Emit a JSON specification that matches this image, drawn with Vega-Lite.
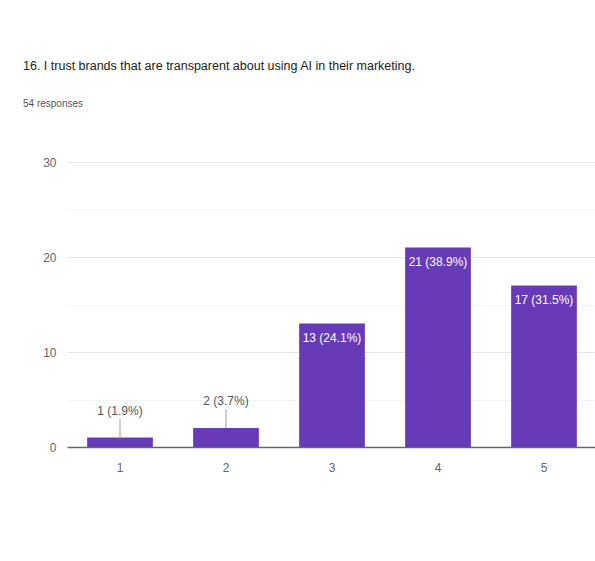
{
  "$schema": "https://vega.github.io/schema/vega-lite/v6.json",
  "width": 530,
  "height": 285,
  "autosize": {"type": "none"},
  "padding": {"left": 67, "top": 162, "right": 0, "bottom": 114},
  "background": "white",
  "config": {
    "view": {"stroke": null},
    "font": "'Liberation Sans', Arial, sans-serif"
  },
  "title": {
    "text": "16. I trust brands that are transparent about using AI in their marketing.",
    "subtitle": "54 responses",
    "anchor": "start",
    "frame": "group",
    "dx": -44,
    "offset": 47,
    "font": "'Liberation Sans', Arial, sans-serif",
    "fontSize": 12.5,
    "fontWeight": "normal",
    "color": "#222222",
    "subtitleFont": "'Liberation Sans', Arial, sans-serif",
    "subtitleFontSize": 10,
    "subtitleColor": "#555555",
    "subtitlePadding": 27
  },
  "data": {
    "values": [
      {"rating": "1", "count": 1, "label": "1 (1.9%)"},
      {"rating": "2", "count": 2, "label": "2 (3.7%)"},
      {"rating": "3", "count": 13, "label": "13 (24.1%)"},
      {"rating": "4", "count": 21, "label": "21 (38.9%)"},
      {"rating": "5", "count": 17, "label": "17 (31.5%)"}
    ]
  },
  "encoding": {
    "x": {
      "field": "rating",
      "type": "nominal",
      "scale": {"paddingInner": 0.38, "paddingOuter": 0.19},
      "axis": {
        "title": null,
        "labelAngle": 0,
        "labelColor": "#666666",
        "labelFontSize": 12,
        "labelPadding": 15,
        "ticks": false,
        "domainColor": "#666666",
        "domainWidth": 1.5
      }
    },
    "y": {
      "field": "count",
      "type": "quantitative",
      "scale": {"domain": [0, 30]},
      "axis": {
        "title": null,
        "values": [0, 5, 10, 15, 20, 25, 30],
        "labelExpr": "datum.value % 10 === 0 ? datum.label : ''",
        "labelColor": "#666666",
        "labelFontSize": 12,
        "labelPadding": 11,
        "ticks": false,
        "domain": false,
        "gridColor": {"condition": {"test": "datum.value % 10 === 0", "value": "#e6e6e6"}, "value": "#f4f4f4"}
      }
    }
  },
  "layer": [
    {"mark": {"type": "bar", "color": "#673ab7"}},
    {
      "transform": [{"filter": "datum.count < 5"}],
      "mark": {"type": "rule", "color": "#9e9e9e", "strokeWidth": 1, "y2Offset": -19},
      "encoding": {"y2": {"field": "count"}}
    },
    {
      "transform": [{"filter": "datum.count < 5"}],
      "mark": {"type": "text", "color": "#555555", "fontSize": 12, "baseline": "middle", "dy": -27},
      "encoding": {"text": {"field": "label"}}
    },
    {
      "transform": [{"filter": "datum.count >= 5"}],
      "mark": {"type": "text", "color": "#ffffff", "fontSize": 12, "baseline": "middle", "dy": 14},
      "encoding": {"text": {"field": "label"}}
    }
  ]
}
